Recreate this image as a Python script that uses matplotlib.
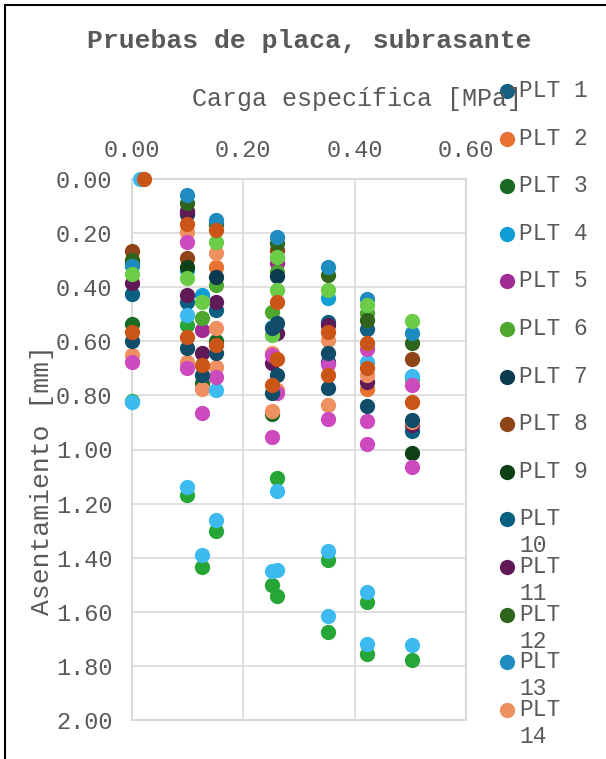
import matplotlib
matplotlib.use('Agg')
import matplotlib.pyplot as plt
from matplotlib.lines import Line2D
from matplotlib.patches import Rectangle

plt.rcParams['font.family'] = ['Liberation Mono', 'DejaVu Sans Mono']

# carga específica [MPa] y asentamiento [mm] de cada prueba
carga_plt1 = [0.0, 0.422]
asent_plt1 = [0.31, 0.556]
carga_plt2 = [0.15, 0.422]
asent_plt2 = [0.325, 0.775]
carga_plt3 = [0.0, 0.126, 0.15, 0.251]
asent_plt3 = [0.535, 0.756, 0.60, 0.87]
carga_plt4 = [0.099, 0.126, 0.352]
asent_plt4 = [0.337, 0.43, 0.44]
carga_plt5 = [0.126, 0.261]
asent_plt5 = [0.558, 0.31]
carga_plt6 = [0.126, 0.15, 0.251, 0.261, 0.422, 0.503]
asent_plt6 = [0.515, 0.393, 0.49, 0.343, 0.497, 0.74]
carga_plt7 = [0.099, 0.15, 0.261, 0.352]
asent_plt7 = [0.13, 0.362, 0.36, 0.675]
carga_plt8 = [0.0, 0.099, 0.261, 0.503]
asent_plt8 = [0.265, 0.293, 0.263, 0.664]
carga_plt9 = [0.099, 0.503]
asent_plt9 = [0.325, 1.014]
carga_plt10 = [0.0, 0.099, 0.15, 0.352, 0.503]
asent_plt10 = [0.425, 0.455, 0.484, 0.53, 0.93]
carga_plt11 = [0.0, 0.099, 0.099, 0.126, 0.15, 0.251, 0.261, 0.352, 0.422, 0.503]
asent_plt11 = [0.385, 0.12, 0.43, 0.645, 0.455, 0.68, 0.57, 0.54, 0.75, 0.91]
carga_plt12 = [0.0, 0.099, 0.15, 0.261, 0.352, 0.422, 0.503]
asent_plt12 = [0.30, 0.09, 0.165, 0.235, 0.355, 0.52, 0.606]
carga_plt13 = [0.0, 0.099, 0.15, 0.261, 0.352, 0.422, 0.503]
asent_plt13 = [0.32, 0.06, 0.152, 0.214, 0.325, 0.445, 0.57]
carga_plt14 = [0.0, 0.099, 0.099, 0.126, 0.15, 0.15, 0.15, 0.251, 0.251, 0.261,
               0.352, 0.352, 0.422, 0.503]
asent_plt14 = [0.65, 0.195, 0.675, 0.775, 0.275, 0.55, 0.695, 0.645, 0.856, 0.78,
               0.596, 0.837, 0.726, 0.90]
carga_plt15 = [0.0, 0.099, 0.099, 0.126, 0.15, 0.251, 0.261, 0.261, 0.352, 0.352,
               0.422, 0.422, 0.503]
asent_plt15 = [0.82, 0.54, 1.17, 1.435, 1.30, 1.50, 1.107, 1.54, 1.41, 1.674,
               1.563, 1.755, 1.777]
carga_plt16 = [0.015, 0.0, 0.099, 0.099, 0.126, 0.15, 0.15, 0.251, 0.251, 0.261,
               0.261, 0.352, 0.352, 0.422, 0.422, 0.422, 0.503, 0.503]
asent_plt16 = [0.0, 0.825, 0.503, 1.137, 1.39, 0.78, 1.26, 0.547, 1.448, 1.155,
               1.445, 1.374, 1.615, 0.676, 1.526, 1.718, 0.73, 1.723]
carga_plt17 = [0.0, 0.099, 0.099, 0.126, 0.15, 0.251, 0.251, 0.261, 0.352, 0.352,
               0.422, 0.422, 0.422, 0.503, 0.503]
asent_plt17 = [0.675, 0.232, 0.70, 0.866, 0.732, 0.65, 0.955, 0.79, 0.685, 0.889,
               0.63, 0.895, 0.978, 0.76, 1.066]
carga_plt18 = [0.0, 0.099, 0.126, 0.15, 0.251, 0.261, 0.261, 0.352, 0.422, 0.503]
asent_plt18 = [0.35, 0.366, 0.455, 0.232, 0.578, 0.288, 0.41, 0.41, 0.467, 0.525]
carga_plt19 = [0.0, 0.099, 0.126, 0.15, 0.251, 0.251, 0.261, 0.261, 0.352, 0.352,
               0.422, 0.503]
asent_plt19 = [0.60, 0.626, 0.726, 0.645, 0.55, 0.79, 0.534, 0.725, 0.645, 0.774,
               0.84, 0.892]
carga_plt20 = [0.022, 0.0, 0.099, 0.099, 0.126, 0.15, 0.15, 0.251, 0.261, 0.261,
               0.352, 0.352, 0.422, 0.422, 0.503]
asent_plt20 = [0.0, 0.565, 0.165, 0.584, 0.689, 0.189, 0.615, 0.763, 0.455, 0.666,
               0.566, 0.726, 0.608, 0.70, 0.825]

cargas = [carga_plt1, carga_plt2, carga_plt3, carga_plt4, carga_plt5, carga_plt6,
          carga_plt7, carga_plt8, carga_plt9, carga_plt10, carga_plt11, carga_plt12,
          carga_plt13, carga_plt14, carga_plt15, carga_plt16, carga_plt17,
          carga_plt18, carga_plt19, carga_plt20]
asentamientos = [asent_plt1, asent_plt2, asent_plt3, asent_plt4, asent_plt5,
                 asent_plt6, asent_plt7, asent_plt8, asent_plt9, asent_plt10,
                 asent_plt11, asent_plt12, asent_plt13, asent_plt14, asent_plt15,
                 asent_plt16, asent_plt17, asent_plt18, asent_plt19, asent_plt20]
etiquetas = ['PLT %d' % (i + 1) for i in range(20)]

colores = ['#156082', '#E97132', '#196B24', '#0F9ED5', '#A02B93', '#4EA72E',
           '#0C3A4E', '#8F4418', '#0F4016', '#095F80', '#601A58', '#2F641C',
           '#1F8CC0', '#EF9060', '#27A638', '#3DBBF0', '#CC49BE', '#6ACC47',
           '#114D68', '#CB5516']

gris = '#595959'
W, H = 606, 759
fig = plt.figure(figsize=(W / 100, H / 100), dpi=100)

def fx(px):
    return px / W

def fy(py):
    return 1 - py / H

ax = fig.add_axes([fx(132), fy(720), fx(466) - fx(132), fy(179) - fy(720)])

for x, y, c in zip(cargas, asentamientos, colores):
    ax.plot(x, y, linestyle='none', marker='o', ms=11, color=c,
            markeredgewidth=0, clip_on=False, zorder=3)

ax.set_xlim(0, 0.6)
ax.set_ylim(2.0, 0.0)
ax.set_xticks([0.0, 0.2, 0.4, 0.6])
ax.set_xticklabels(['%.2f' % v for v in [0.0, 0.2, 0.4, 0.6]])
yt = [i * 0.2 for i in range(11)]
ax.set_yticks(yt)
ax.set_yticklabels(['%.2f' % v for v in yt])
ax.xaxis.tick_top()
ax.tick_params(axis='x', length=0, pad=12, labelsize=17, labelcolor=gris)
ax.tick_params(axis='y', length=0, pad=14, labelsize=17, labelcolor=gris)
ax.grid(True, color='#D9D9D9', linewidth=1.2)
ax.set_axisbelow(True)
for s in ax.spines.values():
    s.set_color('#D9D9D9')
    s.set_linewidth(1.5)

fig.text(fx(309), fy(41), 'Pruebas de placa, subrasante', ha='center',
         va='center', fontsize=19, fontweight='bold', color=gris)
fig.text(fx(357), fy(99), 'Carga específica [MPa]', ha='center', va='center',
         fontsize=18, color=gris)
fig.text(fx(42), fy(480), 'Asentamiento [mm]', ha='center', va='center',
         rotation=90, fontsize=19, color=gris)

# leyenda a la derecha; solo caben las 14 primeras entradas
for i, (lab, c) in enumerate(zip(etiquetas[:14], colores[:14])):
    yc = 91 + 47.6 * i
    fig.add_artist(Line2D([fx(507)], [fy(yc)], marker='o', ms=11, color=c,
                          markeredgewidth=0, linestyle='none'))
    texto = lab if i < 9 else lab.replace(' ', '\n')
    fig.text(fx(519), fy(yc - 12), texto, ha='left', va='top', fontsize=16.5,
             color=gris, linespacing=1.22)

# marco del gráfico
fig.add_artist(Rectangle((fx(5), fy(H + 20)), 1.2, fy(5) - fy(H + 20),
                         transform=fig.transFigure, fill=False,
                         edgecolor='black', linewidth=1.5))

fig.savefig('out.png', dpi=100)
